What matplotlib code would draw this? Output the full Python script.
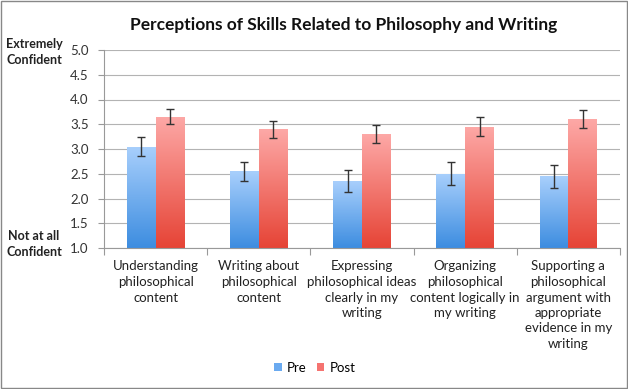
import numpy as np
import matplotlib.pyplot as plt
from matplotlib.colors import LinearSegmentedColormap
from matplotlib.patches import Rectangle

plt.rcParams['font.family'] = ['Lato', 'DejaVu Sans']

# ------ data ------
categories = ['Understanding\nphilosophical\ncontent',
              'Writing about\nphilosophical\ncontent',
              'Expressing\nphilosophical ideas\nclearly in my\nwriting',
              'Organizing\nphilosophical\ncontent logically in\nmy writing',
              'Supporting a\nphilosophical\nargument with\nappropriate\nevidence in my\nwriting']
pre = [3.05, 2.55, 2.35, 2.50, 2.45]
pre_err = [0.20, 0.19, 0.22, 0.23, 0.23]
post = [3.65, 3.40, 3.30, 3.45, 3.60]
post_err = [0.15, 0.17, 0.18, 0.19, 0.18]

fig = plt.figure(figsize=(6.28, 3.89), dpi=100)
ax = fig.add_axes([104/628, 1 - 248/389, 516/628, 198/389])

blue_cm = LinearSegmentedColormap.from_list('b', ['#a8cffc', '#3d8de0'])
red_cm = LinearSegmentedColormap.from_list('r', ['#fda8a6', '#e64436'])
grad = np.linspace(0, 1, 100).reshape(-1, 1)

x = np.arange(len(categories))
w = 0.28

def gradient_bars(xs, vals, cmap):
    for xi, v in zip(xs, vals):
        rect = Rectangle((xi, 1.0), w, v - 1.0, facecolor='none', edgecolor='none')
        ax.add_patch(rect)
        im = ax.imshow(grad, cmap=cmap, aspect='auto', extent=[xi, xi + w, 1.0, v],
                       zorder=2, interpolation='bilinear')
        im.set_clip_path(rect)

gradient_bars(x - w, pre, blue_cm)
gradient_bars(x, post, red_cm)

ax.errorbar(x - w / 2, pre, yerr=pre_err, fmt='none', ecolor='#333333',
            elinewidth=1, capsize=3, capthick=1, zorder=3)
ax.errorbar(x + w / 2, post, yerr=post_err, fmt='none', ecolor='#333333',
            elinewidth=1, capsize=3, capthick=1, zorder=3)

ax.set_xlim(-0.5, len(categories) - 0.5)
ax.set_ylim(1.0, 5.0)
yt = np.arange(1.0, 5.01, 0.5)
ax.set_yticks(yt)
ax.set_yticklabels([f'{v:.1f}' for v in yt], fontsize=9.5, color='#333333')
ax.yaxis.grid(True, color='#b3b3b3', linewidth=0.8)
ax.set_axisbelow(True)

ax.set_xticks(np.arange(-0.5, len(categories), 1.0))
ax.set_xticklabels([])
ax.set_xticks(x, minor=True)
ax.set_xticklabels(categories, minor=True, fontsize=9.5, color='#222222', linespacing=1.35)
ax.tick_params(axis='x', which='minor', length=0, pad=9)
ax.tick_params(axis='x', which='major', length=5, color='#999999', direction='out')
ax.tick_params(axis='y', length=4, color='#999999', pad=7)

for s in ['top', 'right']:
    ax.spines[s].set_visible(False)
ax.spines['left'].set_color('#999999')
ax.spines['bottom'].set_color('#999999')

fig.text(344/628, 1 - 25/389, 'Perceptions of Skills Related to Philosophy and Writing',
         ha='center', va='center', fontsize=12.5, fontweight='bold', color='#111111')
fig.text(34/628, 1 - 52/389, 'Extremely\nConfident', ha='center', va='center',
         fontsize=9, fontweight='bold', color='#222222', linespacing=1.35)
fig.text(34/628, 1 - 244/389, 'Not at all\nConfident', ha='center', va='center',
         fontsize=9, fontweight='bold', color='#222222', linespacing=1.35)

# legend
handles = [Rectangle((0, 0), 1, 1, facecolor='#6aaaf0'),
           Rectangle((0, 0), 1, 1, facecolor='#f57370')]
fig.legend(handles, ['Pre', 'Post'], loc='center', bbox_to_anchor=(315/628, 1 - 368/389),
           ncol=2, frameon=False, fontsize=9.5, handlelength=0.55, handleheight=0.55,
           handletextpad=0.4, columnspacing=0.8)

# outer frame
fig.patches.append(Rectangle((0.002, 0.002), 0.996, 0.996, transform=fig.transFigure,
                             fill=False, edgecolor='#888888', linewidth=1))

fig.savefig('out.png', dpi=100)
